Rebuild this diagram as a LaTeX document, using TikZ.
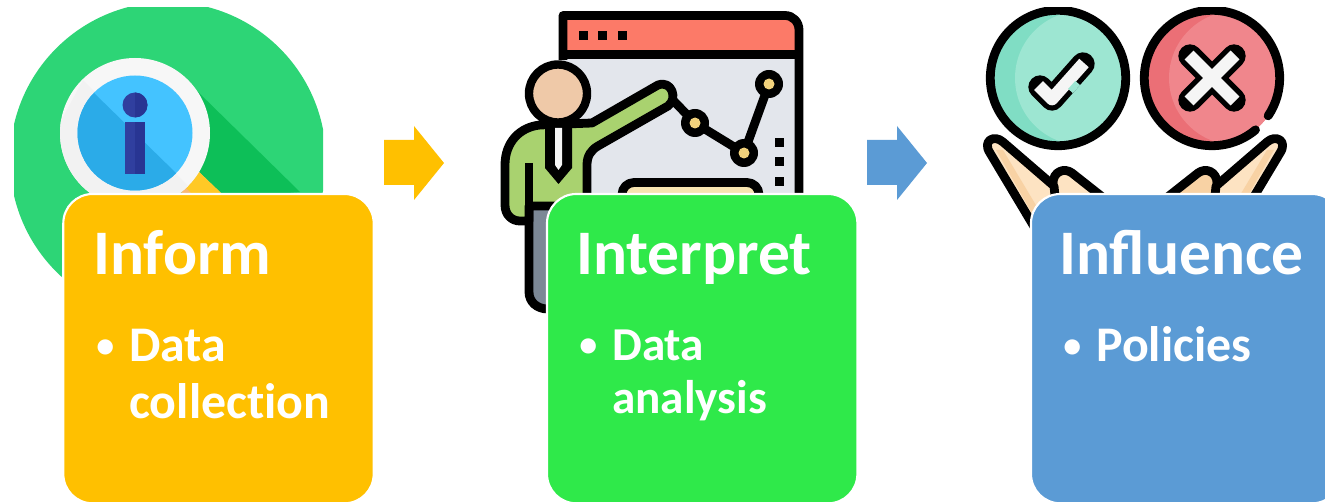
\documentclass[tikz,border=0pt]{standalone}
\usepackage{fontspec}
\setmainfont{Carlito}
\begin{document}
\begin{tikzpicture}[x=0.75pt,y=-0.75pt,line join=round,
  card/.style={draw=white,line width=1.6pt,rounded corners=22pt,minimum width=232.8pt,minimum height=232pt,anchor=north west,inner sep=0pt,outer sep=0pt},
  ttl/.style={anchor=base west,inner sep=0pt,text=white,font=\fontsize{47.6}{50}\selectfont\bfseries},
  itm/.style={anchor=base west,inner sep=0pt,text=white,font=\fontsize{37.4}{40}\selectfont\bfseries},
  itmb/.style={itm,font=\fontsize{35.4}{40}\selectfont\bfseries},
  dotb/.style={anchor=base west,inner sep=0pt,text=white,font=\fontsize{27}{29}\selectfont\bfseries},
  ink/.style={draw=black,line width=6.6pt}]
\definecolor{cYellow}{HTML}{FFC000}
\definecolor{cGreen}{HTML}{2FE94A}
\definecolor{cBlue}{HTML}{5B9BD5}
\definecolor{icGreen}{HTML}{2DD576}
\definecolor{icDark}{HTML}{0DBF58}
\definecolor{icSky}{HTML}{44C3FF}
\definecolor{icSkyD}{HTML}{2BABE8}
\definecolor{icNavy}{HTML}{283593}
\definecolor{icNavyL}{HTML}{303F9F}
\definecolor{scrGrey}{HTML}{E3E6EC}
\definecolor{scrRed}{HTML}{FC7A68}
\definecolor{skin}{HTML}{EFC9A8}
\definecolor{shirt}{HTML}{A9D26F}
\definecolor{pants}{HTML}{7C8896}
\definecolor{dotY}{HTML}{F2D27C}
\definecolor{mint}{HTML}{9DE6D2}
\definecolor{mintD}{HTML}{80DDC4}
\definecolor{rose}{HTML}{F0868C}
\definecolor{roseD}{HTML}{EB6F76}
\definecolor{hand}{HTML}{FDE3C2}
\definecolor{handD}{HTML}{F8D2A4}
\useasboundingbox (0,0) rectangle (1325,502);
\clip (0,0) rectangle (1325,502);
\fill[white] (0,0) rectangle (1325,502);

% --- icon 1: magnifier
\begin{scope}
  \clip (14,8) rectangle (323,300);
  \fill[icGreen] (168,160) circle [radius=158];
  \fill[icDark] (194,88) -- (300,192) -- (200,200) -- (170,170) -- cycle;
\end{scope}
\fill[handD!70!orange] (199,172) -- (222,194) -- (180,194) -- cycle;
\fill[cYellow!85!white] (199,172) -- (222,194) -- (192,194) -- (186,188) -- cycle;
\fill[white!97!black] (135,133) circle [radius=75];
\begin{scope}
  \clip (135,133) circle [radius=75];
  \fill[white!95!black] (83,80) -- (190,188) -- (120,230) -- (40,160) -- cycle;
\end{scope}
\fill[icSky] (135,133) circle [radius=57.5];
\begin{scope}
  \clip (135,133) circle [radius=57.5];
  \fill[icSkyD] (94,93) -- (176,173) -- (120,230) -- (40,150) -- cycle;
\end{scope}
\fill[icNavyL] (135,105) circle [radius=12.5];
\fill[icNavyL] (125,122.5) rectangle (145,174);
\begin{scope}
  \clip (135,90) rectangle (150,180);
  \fill[icNavy] (135,105) circle [radius=12.5];
  \fill[icNavy] (125,122.5) rectangle (145,174);
\end{scope}

% --- icon 2: presenter and chart
\fill[scrGrey] (563,16) rectangle (798,200);
\fill[scrRed] (563,16) -- (787,16) .. controls (794,16) and (799,21) .. (799,28) -- (799,54) -- (563,54) -- cycle;
\draw[ink] (563,60) -- (563,15.5) -- (785,15.5) .. controls (793,15.5) and (799,22) .. (799,30) -- (799,200);
\draw[ink] (563,54.5) -- (798,54.5);
\foreach \px in {583,602.5,622.5} \fill (\px-4.5,31) rectangle (\px+4.5,40);
\foreach \py in {143,162,182} \fill (775,\py-4.5) rectangle (783.5,\py+4.5);
\draw[ink,fill=dotY!60!white,rounded corners=9pt] (622,215) -- (622,182.5) -- (759,182.5) -- (759,215);
\draw[ink,line cap=round] (668,95) -- (695,123) -- (744,153) -- (769,84);
\foreach \cx/\cy in {695/123,744/153,769/84}{
  \fill (\cx,\cy) circle [radius=14];
  \fill[dotY] (\cx,\cy) circle [radius=5.5];
}
\fill[pants] (529,206) -- (560,206) -- (560,309) -- (547,309) .. controls (537,309) and (529,302) .. (529,292) -- cycle;
\draw[ink] (548,309) .. controls (537,309) and (529,302) .. (529,292) -- (529,206);
\draw[ink,fill=shirt] (540,125) .. controls (520,127) and (505,142) .. (505,165) -- (505,205) .. controls (505,215) and (512,221) .. (520,221) -- (529,221) -- (529,206) -- (587,206) -- (587,165) .. controls (587,156) and (591,150) .. (598,146) -- (668,106) .. controls (678,99) and (672,80) .. (658,85) -- (592,123) -- cycle;
\draw[ink] (529,163) -- (529,221);
\fill (545,122) -- (545,168) -- (558.5,184) -- (572,168) -- (572,122) -- cycle;
\fill[white!96!black] (555,128) -- (555,165) -- (558.5,170) -- (562,165) -- (562,128) -- cycle;
\draw[line width=6.3pt,fill=skin] (558,93.5) circle [radius=29];

% --- icon 3: check, cross, hands
\begin{scope}
  \clip (970,8) rectangle (1325,260);
  \fill[mintD] (1058,78) circle [radius=67.5];
  \begin{scope}
    \clip (1058,78) circle [radius=67.5];
    \fill[mint] (1082,78) circle [radius=67];
    \fill[mint] (1100,8) rectangle (1135,150);
  \end{scope}
  \draw[ink] (1058,78) circle [radius=67.7];
  \fill[roseD] (1212,78) circle [radius=67.5];
  \begin{scope}
    \clip (1212,78) circle [radius=67.5];
    \fill[rose] (1236,78) circle [radius=67];
    \fill[rose] (1255,8) rectangle (1290,150);
  \end{scope}
  \draw[ink,line cap=round] (1212,78) ++(50:67.7) arc [start angle=50,end angle=394,radius=67.7];
  \draw[line width=17.5pt,line cap=round] (1040,87) -- (1052,99) -- (1083,64);
  \draw[white!96!black,line width=9.5pt] (1038.5,85.5) -- (1052,99) -- (1084,63);
  \draw[mint,line width=4.8pt] (1070.5,91) -- (1077.7,83);
  \draw[line width=17.5pt,line cap=round] (1190,56) -- (1234,100);
  \draw[line width=17.5pt,line cap=round] (1190,100) -- (1234,56);
  \draw[white!96!black,line width=9.5pt] (1189,55) -- (1235,101);
  \draw[white!96!black,line width=9.5pt] (1189,101) -- (1235,55);
  % hands
  \foreach \s/\o/\tc in {1/0/hand,-1/2270/handD}{
    \begin{scope}[shift={(\o,0)},xscale=\s]
      \draw[ink,fill=\tc] (1056,225) -- (1053,183) .. controls (1053,172) and (1064,167) .. (1072,173) -- (1110,203) -- (1110,240) -- (1056,240) -- cycle;
      \draw[ink,fill=hand] (1045,245) -- (990,153) .. controls (982,141) and (994,134) .. (1003,142) -- (1054,186) -- (1060,245) -- cycle;
      \fill[handD] (996,150) -- (1037,222) -- (1046,222) -- (1003,150) -- cycle;
    \end{scope}
  }
\end{scope}

% --- block arrows
\fill[cYellow] (384,140) -- (414,140) -- (414,126) -- (444,163) -- (414,200) -- (414,185) -- (384,185) -- cycle;
\fill[cBlue] (867,140) -- (897,140) -- (897,126) -- (927,163) -- (897,200) -- (897,185) -- (867,185) -- cycle;

% --- cards
\node[card,fill=cYellow] (informcard) at (63.3,194) {};
\node[card,fill=cGreen] (interpretcard) at (547,194) {};
\node[card,fill=cBlue] (influencecard) at (1031,194) {};

\node[ttl] (informtitle) at (93,275) {Inform};
\node[dotb] (informbullet) at (96,357.5) {•};
\node[itm] (informa) at (129,362) {Data};
\node[itm] (informb) at (129,418) {collect\kern0pt ion};

\node[ttl] (interprettitle) at (576,275) {Interpret};
\node[dotb] (interpretbullet) at (579,356.5) {•};
\node[itmb] (interpreta) at (612,360) {Data};
\node[itmb] (interpretb) at (612,413) {analysis};

\node[ttl] (influencetitle) at (1059,275) {Influence};
\node[dotb] (influencebullet) at (1063,357.5) {•};
\node[itm] (influencea) at (1096,362) {Policies};
\end{tikzpicture}
\end{document}
